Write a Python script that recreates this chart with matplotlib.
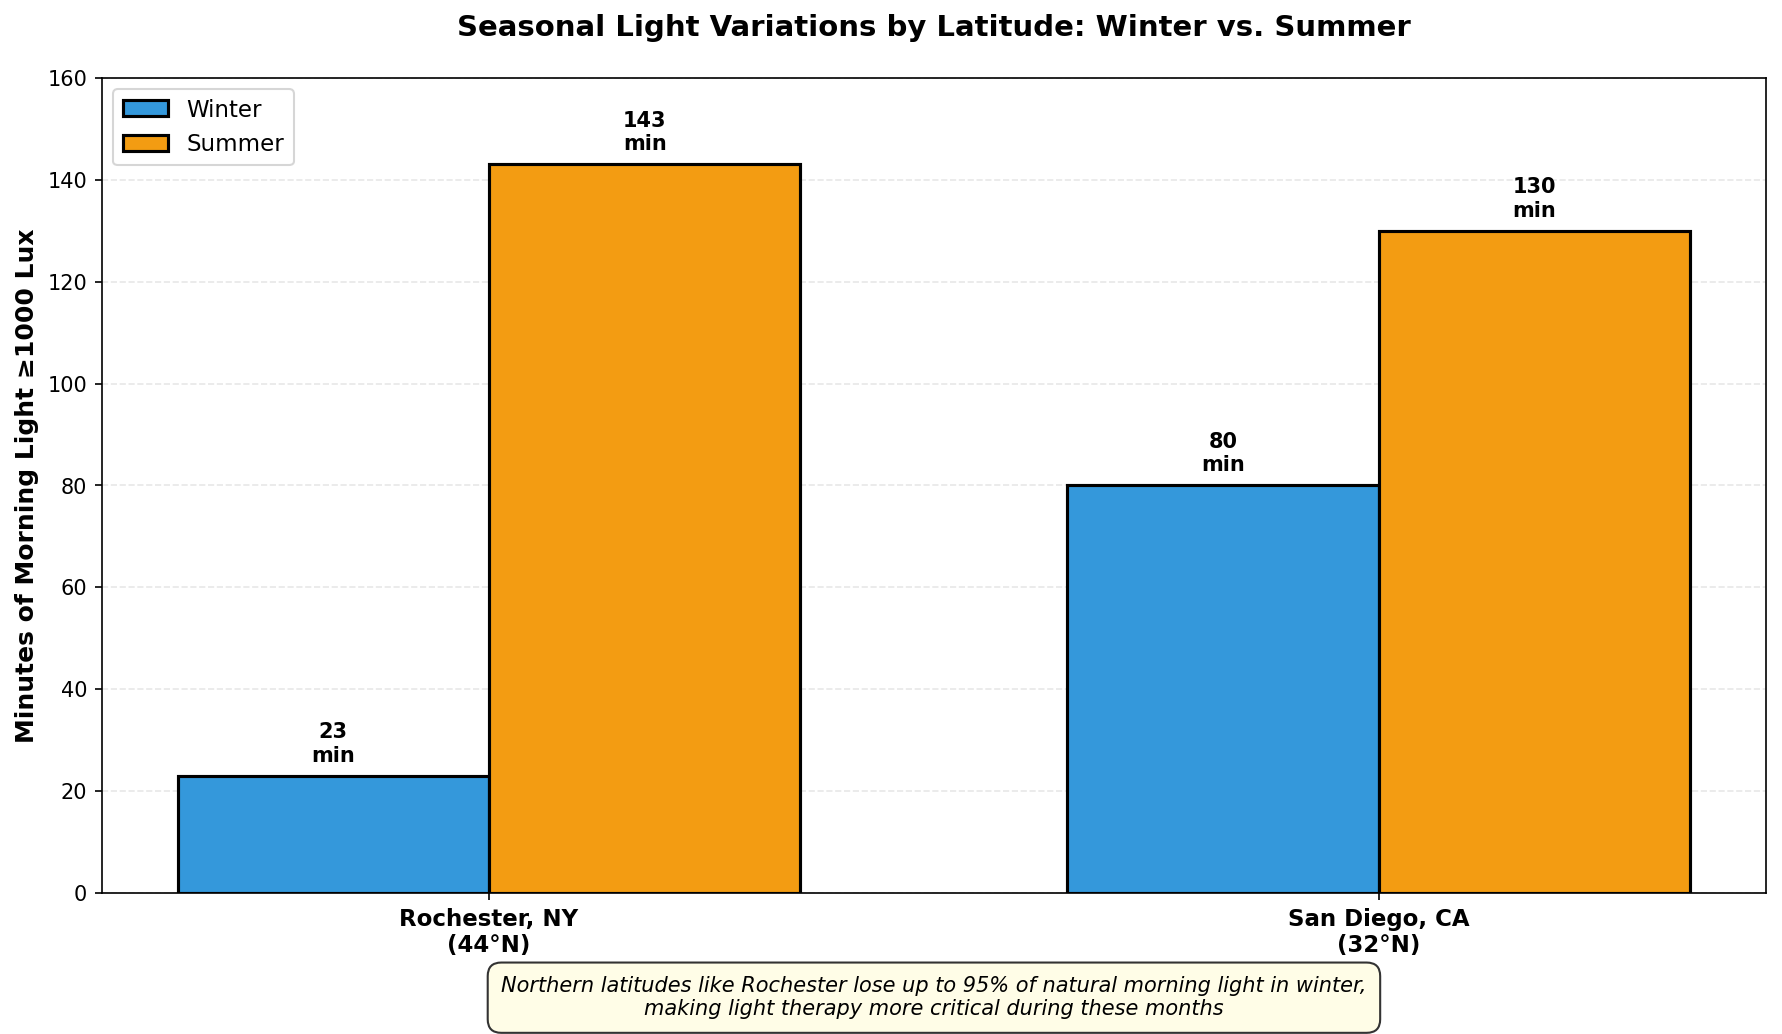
import matplotlib
matplotlib.use('Agg')
import matplotlib.pyplot as plt
import numpy as np

# data
cities = ['Rochester, NY\n(44°N)', 'San Diego, CA\n(32°N)']
winter = [23, 80]
summer = [143, 130]
colors = {'Winter': '#3498db', 'Summer': '#f39c12'}

fig = plt.figure(figsize=(11.88, 6.894), dpi=150)
ax = fig.add_axes([0.0572, 0.1364, 0.9338, 0.7882])

x = np.arange(len(cities))
w = 0.35
b1 = ax.bar(x - w/2, winter, w, label='Winter', color=colors['Winter'],
            edgecolor='black', linewidth=1.5)
b2 = ax.bar(x + w/2, summer, w, label='Summer', color=colors['Summer'],
            edgecolor='black', linewidth=1.5)

# value labels above each bar
for bars in (b1, b2):
    for bar in bars:
        h = bar.get_height()
        ax.text(bar.get_x() + bar.get_width()/2, h + 2, f'{int(h)}\nmin',
                ha='center', va='bottom', fontsize=10, fontweight='bold')

ax.set_ylim(0, 160)
ax.set_xticks(x)
ax.set_xticklabels(cities, fontsize=11, fontweight='bold')
ax.tick_params(axis='y', labelsize=10)
ax.set_ylabel('Minutes of Morning Light ≥1000 Lux', fontsize=12, fontweight='bold')
ax.set_title('Seasonal Light Variations by Latitude: Winter vs. Summer',
             fontsize=14, fontweight='bold', pad=20)
ax.yaxis.grid(True, linestyle='--', alpha=0.3)
ax.set_axisbelow(True)
ax.legend(loc='upper left', fontsize=11)

ax.text(0.5, -0.1285, 'Northern latitudes like Rochester lose up to 95% of natural morning light in winter,\n'
        'making light therapy more critical during these months',
        transform=ax.transAxes, ha='center', va='center', fontsize=10, style='italic',
        bbox=dict(boxstyle='round,pad=0.65', facecolor='#fffde7', edgecolor='#333333', alpha=1))

plt.savefig('out.png', dpi=150)
